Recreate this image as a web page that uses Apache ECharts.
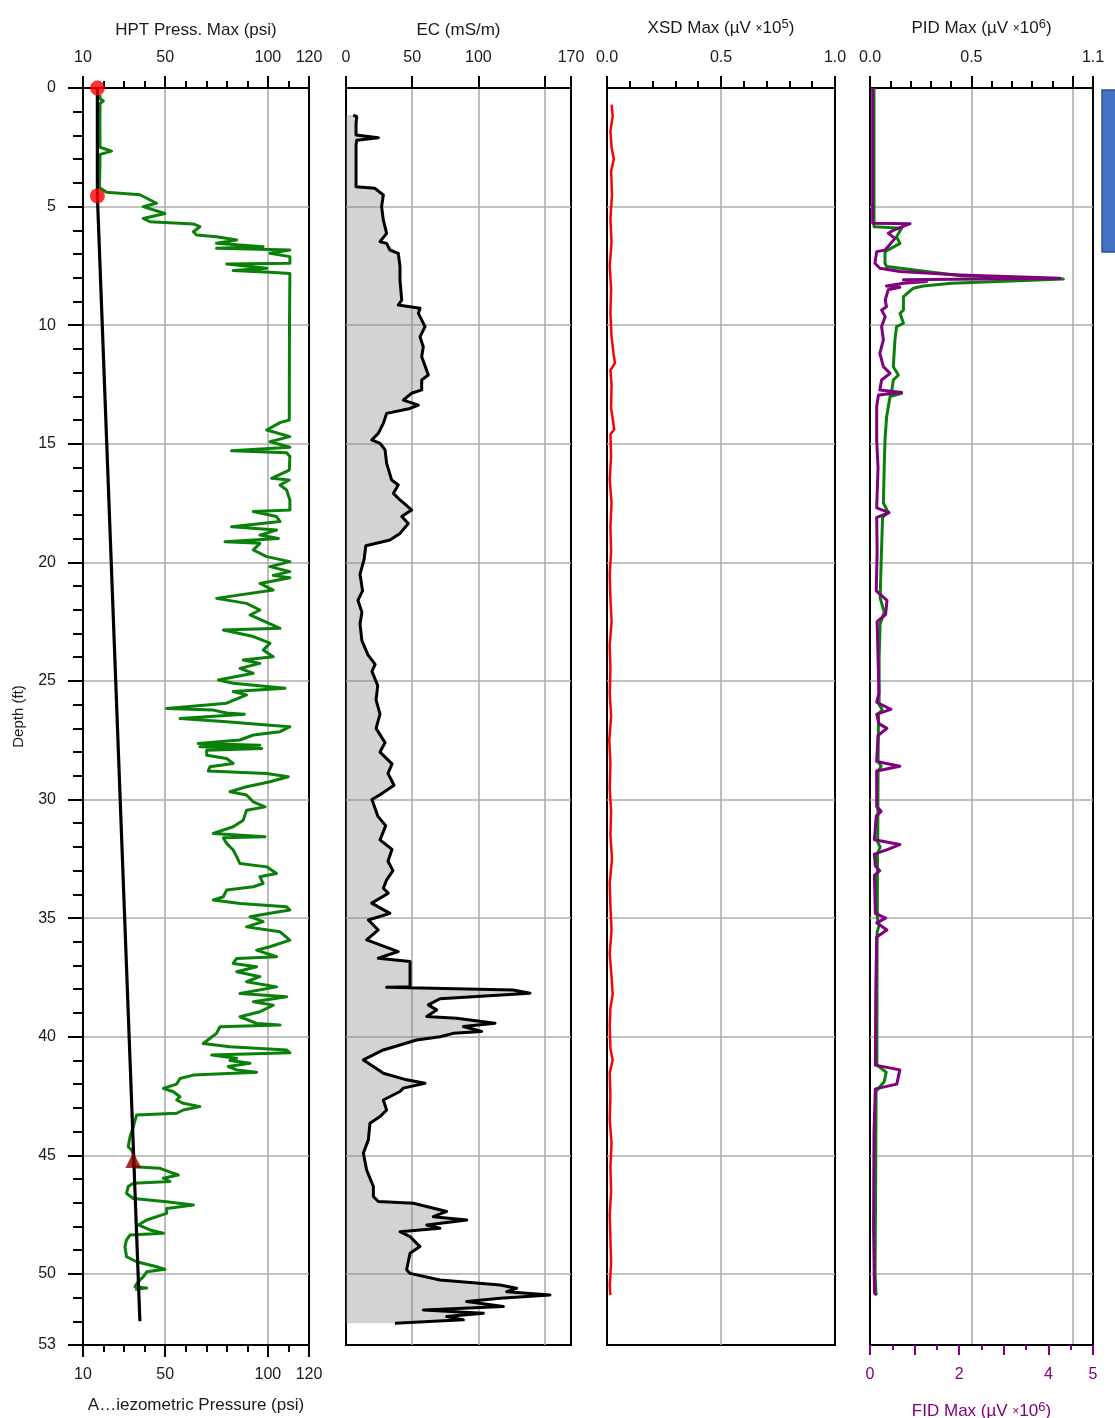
<!DOCTYPE html>
<html><head><meta charset="utf-8">
<script src="https://cdn.jsdelivr.net/npm/echarts@6/dist/echarts.min.js"></script>
<style>html,body{margin:0;padding:0;background:#fff}#c{width:1115px;height:1418px}</style>
</head><body><div id="c"></div>
<script>
// ---------- DATA ----------
// HPT pressure [psi, depth ft]
const hptPressure = [[18.3,0.3],[18.3,0.45],[19.9,0.55],[18.3,0.65],[18.2,1.5],[18.3,2.5],[23.9,2.66],[18.3,2.8],[18.2,3.5],[18.0,4.2],[21.5,4.4],[37.7,4.5],[45.8,4.86],[39.3,5.0],[49.9,5.29],[39.3,5.5],[42.6,5.64],[63.7,5.73],[66.9,5.85],[63.7,6.06],[65.3,6.2],[75.0,6.27],[84.8,6.41],[75.0,6.55],[97.7,6.69],[75.0,6.76],[110.7,6.83],[101.0,6.97],[110.7,7.11],[110.7,7.39],[79.9,7.42],[99.4,7.6],[83.1,7.7],[101.0,7.77],[110.7,7.82],[110.5,10],[110.4,14.0],
[105.9,14.11],[99.4,14.42],[110.7,14.70],[101.0,14.91],[110.7,15.15],[82.3,15.30],[109.1,15.38],[110.7,15.54],[110.4,16.11],[101.8,16.46],[110.4,16.53],[105.9,16.74],[109.1,16.95],[110.7,17.37],[110.7,17.79],[92.9,17.86],[104.2,18.07],[105.9,18.28],[82.3,18.50],[104.2,18.64],[96.1,18.85],[105.1,18.99],[79.1,19.13],[96.1,19.20],[92.9,19.48],[99.4,19.76],[110.7,19.97],[101.0,20.18],[110.7,20.39],[102.6,20.55],[110.7,20.65],[96.1,20.89],[102.6,21.17],[75.0,21.52],[89.6,21.73],[96.1,22.01],[91.3,22.22],[105.9,22.78],[78.3,22.85],[92.9,23.13],[101.0,23.41],[97.7,23.70],[102.6,23.98],[88.0,24.12],[96.1,24.26],[86.4,24.47],[92.9,24.68],[75.9,24.96],[83.1,25.1],[108.3,25.31],[83.1,25.45],[89.6,25.59],[79.9,25.94],[50.7,26.16],[73.4,26.23],[79.9,26.35],
[88.6,26.40],[57.2,26.58],[79.9,26.72],[99.4,26.86],[110.7,26.93],[105.9,27.14],[92.9,27.28],[86.4,27.49],[66.1,27.64],[96.1,27.71],[66.9,27.78],[97.0,27.85],[70.2,27.92],[70.2,28.13],[79.9,28.27],[83.1,28.48],[71.8,28.62],[71.0,28.80],[99.4,28.90],[109.9,29.04],[101.0,29.25],[89.6,29.46],[81.5,29.67],[89.6,29.81],[92.9,30.10],[98.6,30.31],[89.6,30.45],[88.0,30.87],[83.1,31.15],[73.4,31.43],[98.6,31.57],[78.3,31.61],[79.9,31.85],[83.1,32.13],[84.8,32.41],[86.4,32.70],[99.4,32.84],[104.2,33.12],[96.1,33.26],[97.7,33.54],[92.9,33.68],[79.9,33.82],[78.3,34.10],[73.4,34.24],[86.4,34.38],[109.1,34.52],[110.7,34.66],[101.0,34.80],[91.3,34.94],[97.7,35.15],[89.6,35.37],[105.9,35.58],[110.7,35.93],[101.0,36.21],[94.5,36.35],[104.2,36.63],[84.8,36.70],[83.1,36.91],[94.5,37.05],[84.8,37.26],[96.1,37.47],[89.6,37.68],[104.2,37.90],[86.4,38.18],[109.1,38.32],[92.9,38.53],[102.6,38.67],[96.1,38.95],[86.4,39.16],[94.5,39.44],[105.9,39.51],[76.7,39.58],[75.0,39.86],[68.5,40.29],
[81.5,40.42],[109.1,40.56],[110.7,40.68],[72.6,40.77],[84.8,40.91],[81.5,41.0],[91.3,41.12],[80.7,41.26],[84.8,41.4],[94.5,41.5],[63.7,41.62],[57.2,41.76],[55.6,42.0],[49.1,42.18],[54.0,42.32],[57.2,42.53],[55.6,42.67],[58.8,42.81],[66.9,42.95],[58.8,43.09],[55.6,43.23],[36.1,43.30],[34.5,43.79],[32.9,44.22],[32.0,44.64],[33.7,44.78],[34.5,44.99],[34.5,45.48],[47.5,45.55],[54.0,45.76],[56.4,45.83],[49.1,45.97],[52.3,46.11],[34.5,46.18],[32.0,46.32],[31.2,46.61],[34.5,46.82],[50.7,46.96],[63.7,47.10],[50.7,47.24],[50.7,47.45],[41.0,47.73],[36.9,47.94],[42.6,48.15],[49.1,48.29],[32.9,48.36],[31.2,48.57],[30.4,48.85],[31.2,49.28],[36.1,49.49],[45.9,49.70],[49.9,49.81],[41.0,49.91],[39.4,50.12],[36.9,50.33],[35.3,50.54],[41.0,50.6],[35.3,50.65]];
// Piezometric pressure line [psi, depth]
const piezoLine = [[17.0,0],[17.0,4.55],[37.7,52.0]];
const waterLevelPts = [[17.0,0],[17.0,4.55]];
const piezoMarker = [[34.5,45.2]];
// EC [mS/m, depth]
const ecValues = [[5.5,1.14],[8.1,1.21],[7.6,1.5],[7.6,1.98],[24.4,2.1],[8.1,2.2],[7.6,2.4],[7.6,4.16],[21.9,4.23],[23.2,4.3],[28.2,4.51],[26.9,5.0],[28.2,5.57],[30.7,6.13],[25.7,6.48],[30.7,6.55],[33.2,6.83],[39.5,6.97],[40.8,7.53],[40.8,8.10],[42.1,8.94],[39.5,9.15],[55.9,9.29],[54.7,9.5],[59.7,10.06],[55.9,10.49],[58.4,10.91],[57.2,11.33],[62.2,12.1],[57.2,12.31],[57.2,12.73],[49.6,12.87],[43.3,13.16],[54.7,13.37],[48.4,13.51],[30.7,13.72],[28.2,14.14],[24.4,14.56],[19.4,14.84],[25.7,14.98],[29.5,15.26],[30.7,15.83],[34.5,16.53],[39.5,16.74],[35.8,17.09],[40.8,17.37],[49.6,17.79],[42.1,18.07],[47.1,18.36],[40.8,18.78],[33.2,19.06],[15,19.3],[13.6,19.9],[10.6,20.5],[12.5,21.2],[9,21.6],[12,22.1],[10.6,22.6],[12,23.3],[16.6,23.9],[22,24.3],[19.6,24.6],[24,25.2],[22.7,25.8],[25.7,26.4],[22.7,27.0],[29.5,27.6],[25.7,28.0],[34.8,28.5],[31.7,28.9],[36.3,29.4],[25.7,29.8],[19.6,30.0],[24,30.7],[30,31.1],[25.7,31.7],[34.8,32.1],[31.7,32.6],[35.5,33.0],[30.7,33.39],[28.2,33.74],[32.0,33.95],[19.4,34.37],[33.2,34.80],[16.9,35.08],[24.4,35.5],[15.6,35.92],[39.5,36.41],[24.4,36.69],[48.4,36.83],[48.4,37.89],[30.7,37.92],[126.4,38.03],[139.0,38.17],[71.0,38.4],[62.2,38.66],[68.5,38.87],[61.0,39.15],[83.6,39.22],[112.6,39.43],[88.7,39.57],[102.5,39.78],[81.1,39.86],[71.0,40.0],[53.4,40.14],[28.2,40.56],[13.1,40.98],[20.7,41.26],[28.2,41.54],[45.8,41.82],[59.7,41.96],[43.3,42.17],[40.8,42.31],[28.2,42.67],[30.7,43.09],[25.7,43.37],[18.1,43.65],[16.9,44.35],[13.1,44.91],[15.6,45.62],[20.7,46.32],[20.7,46.74],[24.4,46.95],[50.9,47.02],[76.1,47.37],[66.0,47.59],[91.2,47.73],[61.0,47.94],[71.0,48.08],[40.8,48.22],[48.4,48.43],[55.9,48.85],[48.4,49.13],[45.8,49.83],[48.4,49.98],[71.0,50.26],[116.4,50.47],[128.9,50.61],[121.4,50.75],[154.1,50.89],[116.4,51.03],[91.2,51.17],[118.9,51.38],[58.4,51.52],[103.8,51.66],[76.1,51.80],[88.7,51.94],[37.0,52.08]];
// XSD [µV x1e5, depth]
const xsdValues = [[0.02,0.7],[0.025,1.2],[0.015,1.8],[0.02,2.5],[0.03,3.0],[0.018,3.5],[0.022,4.5],[0.015,5.5],[0.02,6.5],[0.012,7.5],[0.018,8.5],[0.015,9.5],[0.02,10.5],[0.03,11.3],[0.035,11.6],[0.015,11.9],[0.02,12.5],[0.018,13.5],[0.032,14.4],[0.015,14.6],[0.018,15.5],[0.012,16.5],[0.02,17.5],[0.015,18.5],[0.018,19.5],[0.012,20.5],[0.015,21.5],[0.02,22.5],[0.012,23.5],[0.015,24.5],[0.012,25.5],[0.018,26.5],[0.01,27.5],[0.015,28.5],[0.012,29.5],[0.018,30.5],[0.015,31.5],[0.022,32.5],[0.012,33.5],[0.015,34.5],[0.02,35.5],[0.012,36.5],[0.02,37.5],[0.025,38.2],[0.015,38.8],[0.012,39.5],[0.015,40.5],[0.025,41.0],[0.012,41.5],[0.015,42.5],[0.012,43.5],[0.02,44.5],[0.015,45.5],[0.018,46.5],[0.012,47.5],[0.015,48.5],[0.018,49.5],[0.012,50.5],[0.015,50.9]];
// PID [µV x1e6, depth]
const pidValues = [[0.02,0],[0.02,5.85],[0.156,5.91],[0.131,6.27],[0.148,6.55],[0.074,6.9],[0.074,7.39],[0.082,7.53],[0.444,7.92],[0.954,8.05],[0.403,8.23],[0.263,8.35],[0.214,8.44],[0.165,8.8],[0.165,9.36],[0.148,9.5],[0.165,9.92],[0.131,10.06],[0.123,10.62],[0.115,11.75],[0.140,12.1],[0.115,12.31],[0.107,12.8],[0.156,12.87],[0.099,13.01],[0.082,13.86],[0.074,14.84],[0.07,16],[0.066,17.5],[0.09,17.9],[0.062,18.1],[0.055,20],[0.05,21.5],[0.07,22.1],[0.05,22.6],[0.045,24],[0.045,26],[0.06,26.2],[0.042,26.4],[0.04,28.4],[0.055,28.6],[0.04,28.8],[0.038,31.8],[0.05,32],[0.037,32.3],[0.036,35],[0.045,35.3],[0.035,35.6],[0.034,41.2],[0.08,41.5],[0.07,41.9],[0.03,42.3],[0.028,46],[0.025,50],[0.03,50.9]];
// FID [µV x1e6, depth]
const fidValues = [[0.06,0],[0.06,5.7],[0.9,5.72],[0.52,6.0],[0.41,6.13],[0.56,6.34],[0.34,6.83],[0.15,6.9],[0.11,7.39],[0.22,7.6],[0.67,7.74],[2.02,7.88],[4.26,8.02],[0.75,8.09],[1.27,8.16],[0.75,8.23],[0.37,8.35],[0.67,8.4],[0.41,8.51],[0.34,8.94],[0.37,9.22],[0.26,9.36],[0.34,9.64],[0.26,10.06],[0.30,10.62],[0.22,11.19],[0.30,11.75],[0.45,12.03],[0.26,12.31],[0.22,12.73],[0.71,12.84],[0.19,12.94],[0.15,13.43],[0.15,14.84],[0.18,16],[0.15,17.7],[0.43,17.9],[0.15,18.1],[0.16,19.5],[0.14,21.2],[0.38,21.6],[0.35,22.2],[0.16,22.5],[0.18,24],[0.2,25.5],[0.15,25.9],[0.47,26.2],[0.15,26.4],[0.2,26.8],[0.38,27.0],[0.18,27.3],[0.15,28.4],[0.67,28.6],[0.15,28.8],[0.15,30.3],[0.25,30.5],[0.14,30.7],[0.1,31.7],[0.67,31.9],[0.4,32.1],[0.1,32.3],[0.12,32.8],[0.22,33.0],[0.1,33.2],[0.12,34.8],[0.35,35.0],[0.15,35.2],[0.38,35.5],[0.15,35.8],[0.13,38],[0.12,41.2],[0.67,41.4],[0.6,42.0],[0.12,42.2],[0.09,44],[0.08,48],[0.1,50.8],[0.15,50.9]];
// tick labels
const depthLabels = [0,5,10,15,20,25,30,35,40,45,50,53];
const hptLabels = [10,50,100,120];
const ecLabels = [0,50,100,170];
const xsdLabels = [0,0.5,1.0];
const pidLabels = [0,0.5,1.1];
const fidLabels = [0,2,4,5];

// ---------- STYLE ----------
const F = "'Liberation Sans', Arial, sans-serif";
const GRAY = '#adadad';
const TXT = '#1a1a1a';
const PURPLE = '#800080';
const GREEN = '#0a800a';
function gl(n, idx){ const a=[]; for(let i=0;i<n;i++) a.push(idx.indexOf(i)>=0?GRAY:'rgba(0,0,0,0)'); return a; }
const noLine = {show:false,onZero:false};
const blackLine = {show:true,onZero:false,lineStyle:{color:'#000',width:2}};
const lbl = (vals, fmt, extra) => Object.assign({show:true,fontSize:16,color:TXT,fontFamily:F,margin:22,
  formatter: v => { for (const t of vals) if (Math.abs(t-v)<1e-6) return fmt?fmt(v):String(v); return ''; }}, extra||{});
const mkTtl = c => ({fontSize:17,color:c,fontFamily:F,rich:{a:{fontSize:17,color:c,fontFamily:F},b:{fontSize:12,color:c,fontFamily:F},s:{fontSize:13,color:c,fontFamily:F,verticalAlign:'top',padding:[0,0,8,0]}}});
const ttl = mkTtl(TXT);

const grids = [
  {left:83,top:88,width:226,height:1257},
  {left:346,top:88,width:225,height:1257},
  {left:607,top:88,width:228,height:1257},
  {left:870,top:88,width:223,height:1257}
].map(g => Object.assign(g,{show:true,borderColor:'#000',borderWidth:2,backgroundColor:'rgba(0,0,0,0)',containLabel:false,outerBoundsMode:'none'}));

const xAxes = [
  // 0 HPT top minor
  {gridIndex:0,type:'value',position:'top',min:10,max:120,interval:10,axisLine:blackLine,
   axisTick:{show:true,length:7,lineStyle:{color:'#000',width:2}},axisLabel:{show:false},
   splitLine:{show:true,lineStyle:{color:gl(12,[4,9]),width:1.6}}},
  // 1 HPT top major
  {gridIndex:0,type:'value',position:'top',min:10,max:120,interval:10,axisLine:noLine,
   axisTick:{show:true,length:12,customValues:hptLabels,lineStyle:{color:'#000',width:2}},
   axisLabel:lbl(hptLabels,null,{customValues:hptLabels}),splitLine:{show:false},
   name:'HPT Press. Max (psi)',nameLocation:'middle',nameGap:49,nameTextStyle:ttl},
  // 2 HPT bottom minor
  {gridIndex:0,type:'value',position:'bottom',min:10,max:120,interval:10,axisLine:blackLine,
   axisTick:{show:true,length:7,lineStyle:{color:'#000',width:2}},axisLabel:{show:false},splitLine:{show:false}},
  // 3 HPT bottom major
  {gridIndex:0,type:'value',position:'bottom',min:10,max:120,interval:10,axisLine:noLine,
   axisTick:{show:true,length:12,customValues:hptLabels,lineStyle:{color:'#000',width:2}},
   axisLabel:lbl(hptLabels,null,{customValues:hptLabels}),splitLine:{show:false},
   name:'A\u2026iezometric Pressure (psi)',nameLocation:'middle',nameGap:52,nameTextStyle:ttl},
  // 4 EC top
  {gridIndex:1,type:'value',position:'top',min:0,max:170,interval:50,axisLine:blackLine,
   axisTick:{show:true,length:12,lineStyle:{color:'#000',width:2}},axisLabel:lbl(ecLabels),
   splitLine:{show:true,lineStyle:{color:gl(5,[1,2,3]),width:1.6}},
   name:'EC (mS/m)',nameLocation:'middle',nameGap:49,nameTextStyle:ttl},
  // 5 XSD top minor
  {gridIndex:2,type:'value',position:'top',min:0,max:1,interval:0.1,axisLine:blackLine,
   axisTick:{show:true,length:7,lineStyle:{color:'#000',width:2}},axisLabel:{show:false},
   splitLine:{show:true,lineStyle:{color:gl(11,[5]),width:1.6}}},
  // 6 XSD top major
  {gridIndex:2,type:'value',position:'top',min:0,max:1,interval:0.5,axisLine:noLine,
   axisTick:{show:true,length:12,lineStyle:{color:'#000',width:2}},axisLabel:lbl(xsdLabels,v=>v.toFixed(1)),
   splitLine:{show:false},
   name:'{a|XSD Max (\u00b5V }{b|\u00d7}{a|10}{s|5}{a|)}',nameLocation:'middle',nameGap:49,nameTextStyle:ttl},
  // 7 PID top minor
  {gridIndex:3,type:'value',position:'top',min:0,max:1.1,interval:0.1,axisLine:blackLine,
   axisTick:{show:true,length:7,lineStyle:{color:'#000',width:2}},axisLabel:{show:false},
   splitLine:{show:true,lineStyle:{color:gl(12,[5,10]),width:1.6}}},
  // 8 PID top major
  {gridIndex:3,type:'value',position:'top',min:0,max:1.1,interval:0.5,axisLine:noLine,
   axisTick:{show:true,length:12,lineStyle:{color:'#000',width:2}},axisLabel:lbl(pidLabels,v=>v.toFixed(1)),
   splitLine:{show:false},
   name:'{a|PID Max (\u00b5V }{b|\u00d7}{a|10}{s|6}{a|)}',nameLocation:'middle',nameGap:49,nameTextStyle:ttl},
  // 9 FID bottom minor
  {gridIndex:3,type:'value',position:'bottom',min:0,max:5,interval:0.5,axisLine:blackLine,
   axisTick:{show:true,length:5,lineStyle:{color:PURPLE,width:2}},axisLabel:{show:false},splitLine:{show:false}},
  // 10 FID bottom major
  {gridIndex:3,type:'value',position:'bottom',min:0,max:5,interval:1,axisLine:noLine,
   axisTick:{show:true,length:10,lineStyle:{color:PURPLE,width:2}},axisLabel:lbl(fidLabels,null,{color:PURPLE}),
   splitLine:{show:false},
   name:'{a|FID Max (\u00b5V }{b|\u00d7}{a|10}{s|6}{a|)}',nameLocation:'middle',nameGap:56,nameTextStyle:mkTtl(PURPLE)}
];

const yBase = {type:'value',inverse:true,min:0,max:53};
const yAxes = [
  Object.assign({gridIndex:0,position:'left',interval:1,axisLine:blackLine,
    axisTick:{show:true,length:10,lineStyle:{color:'#000',width:2}},axisLabel:{show:false},
    splitLine:{show:true,lineStyle:{color:gl(54,[5,10,15,20,25,30,35,40,45,50]),width:1.6}}},yBase),
  Object.assign({gridIndex:0,position:'left',interval:5,axisLine:noLine,
    axisTick:{show:true,length:15,lineStyle:{color:'#000',width:2}},axisLabel:lbl(depthLabels,null,{margin:27}),
    splitLine:{show:false},name:'Depth (ft)',nameLocation:'middle',nameGap:57,nameRotate:90,
    nameTextStyle:{fontSize:15,color:TXT,fontFamily:F}},yBase),
  Object.assign({gridIndex:1,position:'left',interval:5,axisLine:noLine,axisTick:{show:false},axisLabel:{show:false},
    splitLine:{show:true,lineStyle:{color:gl(12,[1,2,3,4,5,6,7,8,9,10]),width:1.6}}},yBase),
  Object.assign({gridIndex:2,position:'left',interval:5,axisLine:noLine,axisTick:{show:false},axisLabel:{show:false},
    splitLine:{show:true,lineStyle:{color:gl(12,[1,2,3,4,5,6,7,8,9,10]),width:1.6}}},yBase),
  Object.assign({gridIndex:3,position:'left',interval:5,axisLine:noLine,axisTick:{show:false},axisLabel:{show:false},
    splitLine:{show:true,lineStyle:{color:gl(12,[1,2,3,4,5,6,7,8,9,10]),width:1.6}}},yBase)
];

const lineS = (data, xi, yi, color, w, z) => ({type:'line',data,xAxisIndex:xi,yAxisIndex:yi,showSymbol:false,symbol:'none',
  lineStyle:{color,width:w,join:'round'},itemStyle:{color},silent:true,animation:false,z:z||3});

const series = [
  lineS(hptPressure,0,0,GREEN,3,3),
  lineS(piezoLine,0,0,'#000',3.2,4),
  {type:'scatter',data:waterLevelPts,xAxisIndex:0,yAxisIndex:0,symbol:'circle',symbolSize:15,itemStyle:{color:'#ff0000'},z:5,clip:true,silent:true,animation:false},
  {type:'scatter',data:piezoMarker,xAxisIndex:0,yAxisIndex:0,symbol:'triangle',symbolSize:16,itemStyle:{color:'#8b0000'},z:5,silent:true,animation:false},
  {type:'custom',xAxisIndex:4,yAxisIndex:2,data:ecValues,encode:{x:0,y:1},silent:true,animation:false,z:2,
   renderItem:function(params,api){
     if(params.dataIndex!==0) return null;
     const pts = ecValues.map(p=>api.coord(p));
     pts.unshift(api.coord([0,ecValues[0][1]]));
     pts.push(api.coord([0,ecValues[ecValues.length-1][1]]));
     return {type:'polygon',shape:{points:pts},style:{fill:'rgba(140,140,140,0.38)'}};
   }},
  lineS(ecValues,4,2,'#000',3,3),
  lineS(xsdValues,5,3,'#ff0000',2.5,3),
  lineS(pidValues,7,4,GREEN,3,3),
  lineS(fidValues,9,4,PURPLE,3,4)
];

const chart = echarts.init(document.getElementById('c'),null,{renderer:'canvas'});
chart.setOption({
  backgroundColor:'#fff',animation:false,
  grid:grids,xAxis:xAxes,yAxis:yAxes,series,
  graphic:[{type:'rect',shape:{x:1102,y:90,width:30,height:162},style:{fill:'#4472C4',stroke:'#2F528F',lineWidth:1.5},silent:true}]
});
</script></body></html>
